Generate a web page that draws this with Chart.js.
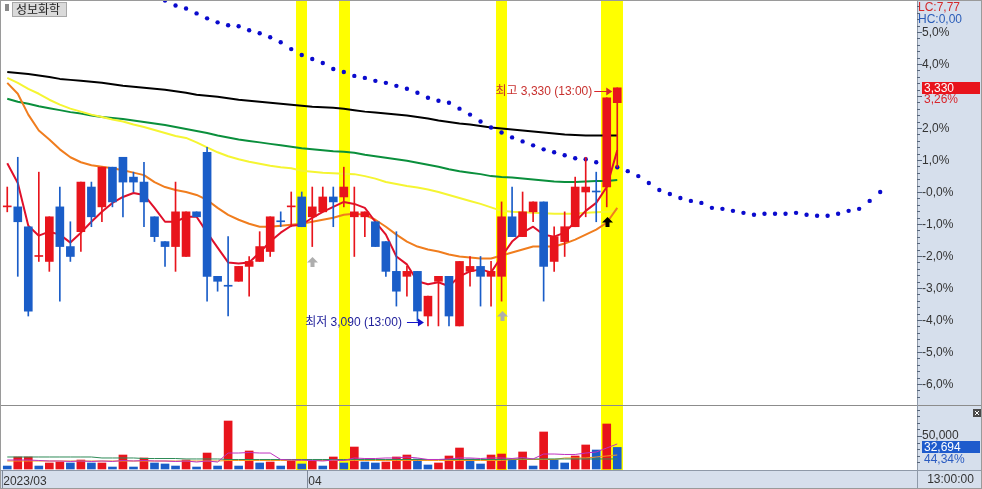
<!DOCTYPE html>
<html><head><meta charset="utf-8">
<script src="https://cdn.jsdelivr.net/npm/chart.js@4.4.0/dist/chart.umd.min.js"></script>
<style>html,body{margin:0;padding:0;background:#fff;overflow:hidden}#wrap{width:982px;height:489px}</style>
</head><body><div id="wrap"><canvas id="c" width="982" height="489"></canvas></div>
<script>
// ---------------- data ----------------
const stockName = '성보화학';
const baseClose = 3225;            // reference price of the % axis
const slots = 87;                  // number of bar slots on the time axis
const timeTicks = ['2023/03', '04'];
const timeTickIndex = [0, 29];
const lastTime = '13:00:00';
const lcText = 'LC:7,77';
const hcText = 'HC:0,00';
const volRatioText = '44,34%';

const opens  = [3210,3210,3190,3160,3155,3210,3170,3185,3230,3210,3250,3260,3240,3235,3200,3175,3170,3160,3205,3265,3140,3130,3135,3150,3155,3165,3195,3210,3220,3200,3205,3220,3220,3200,3200,3195,3175,3145,3140,3145,3100,3135,3140,3090,3145,3150,3140,3140,3200,3180,3205,3215,3155,3175,3190,3225,3225,3230,3315];
const highs  = [3230,3260,3190,3245,3200,3230,3195,3235,3235,3250,3250,3260,3245,3255,3200,3175,3235,3205,3205,3270,3140,3180,3150,3160,3185,3200,3205,3225,3225,3230,3230,3230,3250,3230,3205,3195,3175,3185,3150,3145,3120,3140,3140,3155,3160,3160,3155,3215,3230,3225,3215,3215,3190,3205,3240,3260,3245,3320,3330];
const lows   = [3205,3140,3100,3155,3145,3115,3155,3165,3190,3195,3210,3200,3225,3190,3175,3150,3145,3160,3200,3115,3125,3100,3135,3120,3155,3160,3190,3190,3190,3170,3205,3190,3210,3160,3180,3170,3140,3110,3120,3095,3090,3090,3090,3090,3130,3110,3110,3115,3180,3180,3195,3115,3145,3160,3190,3200,3195,3210,3250];
const closes = [3210,3195,3105,3160,3200,3170,3160,3235,3200,3250,3215,3235,3235,3215,3180,3170,3205,3205,3200,3140,3135,3130,3150,3155,3170,3200,3195,3210,3190,3210,3220,3215,3230,3205,3205,3170,3145,3125,3145,3105,3120,3140,3100,3155,3150,3140,3145,3200,3180,3205,3215,3150,3180,3190,3230,3230,3225,3320,3330];

const ma5   = [3254,3234,3191,3181,3185,3182,3174,3184,3195,3205,3214,3220,3224,3222,3209,3195,3195,3200,3200,3184,3169,3154,3153,3154,3164,3175,3184,3191,3192,3199,3205,3210,3215,3213,3209,3195,3182,3160,3152,3135,3132,3134,3130,3140,3145,3147,3144,3160,3175,3184,3190,3182,3180,3184,3195,3206,3214,3230,3267];
const ma20  = [3335,3324,3303,3287,3278,3268,3260,3255,3252,3250.5,3249,3247,3244.5,3242,3235,3230,3227,3225,3222,3217,3209,3202,3197,3193,3190,3190,3191,3192,3193,3195,3197,3199,3202,3203,3202,3197,3190,3182,3175,3170,3167,3165,3162,3160,3159,3158,3158,3161,3164,3167,3170,3170,3170,3173,3177,3182,3187,3194,3209];
const ma60  = [3340,3335,3329,3324,3318,3313,3309,3306,3303,3300.5,3298,3296,3293,3290.5,3287.5,3284.5,3281.5,3279.5,3275,3270,3265,3261,3258,3255.5,3253.5,3251.5,3250,3249,3246.5,3245.5,3244.5,3244,3243.5,3243,3241,3238.5,3235,3233,3231,3229.5,3227.5,3225,3222,3219,3216,3213,3209.5,3206,3205,3204.5,3204,3203.5,3203,3203,3203,3204,3204.5,3205,3206];
const ma120 = [3319,3316,3314,3311.5,3309.5,3307.5,3305.5,3304,3302,3300.5,3299.5,3298.5,3297,3295.5,3294,3292.5,3290.5,3288.5,3286.5,3284.5,3282,3280,3278,3276.5,3275,3273.5,3272,3270.5,3269,3268,3267,3266,3265.5,3264.5,3262.5,3261,3259.5,3258,3256.5,3254.5,3252.5,3250.5,3248,3246,3244.5,3243,3241,3240,3239.5,3238.5,3237.5,3236.5,3235.5,3235,3235,3235.5,3236,3236,3237];
const ma240 = [3346,3345,3344,3342.5,3341,3339,3338,3337,3336,3335,3333.5,3332,3331,3330,3329,3328,3326.5,3325,3323,3322,3321,3319.5,3318,3317,3316,3315,3314,3313,3312,3311,3310.5,3310,3309,3307.5,3306,3305,3304,3303,3302,3300.5,3299,3297,3295.5,3294,3293,3291.5,3290,3289,3288,3287,3286,3285,3284,3283,3282.5,3282,3282,3282,3282];

const leadStart = 15;
const leadLine = [3418,3413,3410,3405,3400,3396,3393,3392,3388,3385,3381,3376,3369,3363,3359,3355,3349,3346,3342,3340,3337,3335,3332,3329,3325,3320,3317,3315,3309,3303,3296,3290,3285,3280,3276,3272,3268,3265,3262,3259,3258,3255,3253,3250,3246,3241,3234,3227,3223,3219,3216,3214,3209,3208,3206,3204,3202,3203,3203,3203,3204,3202,3201,3201,3203,3206,3208,3216,3225];

const volumes = [4500,18200,18200,4500,9100,10600,9100,13600,9100,9100,3000,21200,3000,16700,9100,7600,4500,13600,3000,24200,4500,72700,4500,27300,9100,10600,4500,12100,7600,12100,4500,18200,9100,33300,10600,9100,10600,18200,21200,15200,6100,9100,19700,31800,15200,7600,21200,22700,13600,25800,4500,56100,13600,9100,19700,36400,28800,68200,32694];
const volDir  = [-1,1,1,-1,1,1,-1,1,-1,1,-1,1,-1,1,-1,-1,-1,1,-1,1,-1,1,-1,1,-1,1,-1,1,-1,1,-1,1,-1,1,-1,-1,1,1,1,-1,-1,1,1,1,-1,-1,1,1,-1,1,-1,1,-1,-1,1,1,-1,1,-1];
const volMa5  = [13600,13600,13600,12900,12100,12100,11400,12100,11400,12100,11400,12900,12100,12900,12100,12100,11400,12100,10600,12100,10600,24200,24200,25000,24200,24200,14400,13600,13600,12900,12100,13600,12900,16700,15900,15900,16700,16700,18200,16700,14400,14400,15200,16700,16700,15900,16700,16700,15900,17400,15200,22700,22700,22000,22000,24200,25800,31800,37900];
const volMa20 = [18200,18200,18200,18200,18200,18200,18200,18200,18200,16700,16700,16700,16700,15900,15900,15900,15900,15200,15200,15200,15200,14400,14400,14400,14400,14400,14400,14400,14400,14400,14400,14400,14400,14400,14400,14400,14400,14400,14400,14400,14400,14400,14400,14400,14400,14400,14400,14400,15200,15200,15200,15200,15200,15200,15200,15200,15200,15200,15200];
const volMa60 = [12100,12100,12100,12100,12100,12100,12100,12100,12100,12100,12100,12100,12100,12100,12100,12100,12100,12100,12100,12100,12100,12900,12900,12900,12900,12900,12900,12900,12900,12900,12900,12900,12900,12900,12900,12900,12900,12900,12900,12900,12900,12900,12900,12900,12900,12900,12900,12900,14400,14400,14400,14400,14400,16700,16700,16700,18200,19700,21200];

const signalBars = [28, 32, 47, 57, 58];   // highlighted bars
const buySignals = [29, 47, 57];           // arrow markers (last one confirmed)
const pctLevels = [5, 4, 3, 2, 1, 0, -1, -2, -3, -4, -5, -6];
const volLabel = 50000;

// ---------------- styling / layout ----------------
const UP = '#E8141C', DOWN = '#1A5DC8', PANEL = 'rgb(214,223,236)';
const FONT = "'Liberation Sans','Noto Sans CJK KR',sans-serif";
const N = closes.length;
const paneSplit = 405;     // divider between price and volume panes
const axisW = 65;
const candleColors = closes.map((c, i) => c > opens[i] ? UP : c < opens[i] ? DOWN : (i === 0 || c >= closes[i - 1] ? UP : DOWN));
const labels = Array.from({length: slots}, (_, i) => String(i));
const tickText = {};
timeTickIndex.forEach((ix, k) => tickText[ix] = timeTicks[k]);
const leadData = labels.map((_, i) => (i >= leadStart && i - leadStart < leadLine.length) ? leadLine[i - leadStart] : null);
const fmtPct = k => k > 0 ? k + ',0%' : '-' + Math.abs(k) + ',0%';
const fmtNum = v => Math.round(v).toLocaleString('en-US');

function lineDs(data, color, order, width, axis) {
  return {type: 'line', data, borderColor: color, borderWidth: width || 2, pointRadius: 0, tension: 0,
    order, yAxisID: axis || 'y', borderJoinStyle: 'round', spanGaps: false};
}

const paint = {
  id: 'paint',
  beforeDraw(chart) {
    const {ctx, width, height, chartArea: ca} = chart;
    ctx.save();
    ctx.fillStyle = '#fff'; ctx.fillRect(0, 0, width, height);
    ctx.fillStyle = PANEL;
    ctx.fillRect(ca.right, 0, width - ca.right, height);
    ctx.fillRect(0, ca.bottom, width, height - ca.bottom);
    ctx.restore();
  },
  beforeDatasetsDraw(chart) {
    const {ctx, chartArea: ca, scales: {x}} = chart;
    const slot = x.getPixelForValue(1) - x.getPixelForValue(0);
    ctx.save();
    ctx.fillStyle = '#FFFF00';
    signalBars.forEach(i => {
      const c = x.getPixelForValue(i);
      ctx.fillRect(Math.round(c - slot / 2), ca.top, Math.round(slot), ca.bottom - ca.top);
    });
    ctx.restore();
  },
  afterDatasetsDraw(chart) {
    const {ctx, width, height, chartArea: ca, scales: {x, y, yv}} = chart;
    const slot = x.getPixelForValue(1) - x.getPixelForValue(0);
    ctx.save();
    // pane divider, strip border, axis line
    ctx.lineWidth = 1;
    ctx.strokeStyle = '#8C8C8C';
    ctx.beginPath(); ctx.moveTo(0, paneSplit + 0.5); ctx.lineTo(width, paneSplit + 0.5); ctx.stroke();
    ctx.strokeStyle = '#8E99A8';
    ctx.beginPath(); ctx.moveTo(0, ca.bottom + 0.5); ctx.lineTo(width, ca.bottom + 0.5); ctx.stroke();
    ctx.beginPath(); ctx.moveTo(ca.right + 0.5, 0); ctx.lineTo(ca.right + 0.5, height); ctx.stroke();
    // time separators
    ctx.strokeStyle = '#7F8A9A';
    timeTickIndex.forEach(i => {
      const bx = Math.round(x.getPixelForValue(i) - slot / 2) + 0.5;
      ctx.beginPath(); ctx.moveTo(bx, ca.bottom); ctx.lineTo(bx, height); ctx.stroke();
    });
    ctx.font = '12px ' + FONT;
    ctx.textBaseline = 'middle';
    ctx.textAlign = 'left';
    // price axis ticks and labels
    ctx.strokeStyle = '#56657A';
    for (let k = -34; k <= 29; k++) {
      const py = Math.round(y.getPixelForValue(baseClose * (1 + k * 0.2 / 100))) + 0.5;
      if (py < ca.top + 2 || py > paneSplit - 2) continue;
      const major = k % 5 === 0;
      ctx.beginPath(); ctx.moveTo(ca.right, py); ctx.lineTo(ca.right + (major ? 5 : 3), py); ctx.stroke();
    }
    const lastC = closes[N - 1];
    const tagY = y.getPixelForValue(lastC);
    ctx.fillStyle = '#333';
    pctLevels.forEach(k => {
      const py = y.getPixelForValue(baseClose * (1 + k / 100));
      if (Math.abs(py - tagY) < 12) return;   // hidden behind the price tag
      ctx.fillText(fmtPct(k), ca.right + 5, py + 0.5);
    });
    // volume axis ticks
    for (let v = 10000; v <= 90000; v += 10000) {
      const py = Math.round(yv.getPixelForValue(v)) + 0.5;
      if (py < paneSplit + 2) continue;
      ctx.beginPath(); ctx.moveTo(ca.right, py); ctx.lineTo(ca.right + (v === volLabel ? 5 : 3), py); ctx.stroke();
    }
    ctx.fillStyle = '#333';
    ctx.fillText(fmtNum(volLabel), ca.right + 5, yv.getPixelForValue(volLabel));
    // volume tag
    const lastVol = volumes[N - 1];
    const vy = yv.getPixelForValue(lastVol);
    ctx.fillStyle = '#1E5BCC';
    ctx.fillRect(ca.right + 5, Math.round(vy) - 6, 58, 12);
    ctx.fillStyle = '#fff';
    ctx.fillText(fmtNum(lastVol), ca.right + 7, vy + 0.5);
    ctx.fillStyle = '#2A5BC0';
    ctx.fillText(volRatioText, ca.right + 7, vy + 12);
    // price tag
    ctx.fillStyle = '#E8141C';
    ctx.fillRect(ca.right + 5, Math.round(tagY) - 6, 58, 12);
    ctx.fillStyle = '#fff';
    ctx.fillText(fmtNum(lastC), ca.right + 7, tagY + 0.5);
    ctx.fillStyle = '#D8262C';
    const chg = ((lastC / baseClose - 1) * 100).toFixed(2).replace('.', ',');
    ctx.fillText(chg + '%', ca.right + 7, tagY + 12);
    // LC / HC
    ctx.fillStyle = '#D42A2A'; ctx.fillText(lcText, ca.right + 1, 8);
    ctx.fillStyle = '#2B5DB8'; ctx.fillText(hcText, ca.right + 1, 20);
    // time at right of strip
    ctx.fillStyle = '#333'; ctx.textAlign = 'center';
    ctx.fillText(lastTime, (ca.right + width) / 2 + 1, (ca.bottom + height) / 2 + 0.5);
    // close icon of volume pane
    ctx.fillStyle = '#4A4A4A'; ctx.fillRect(width - 9, paneSplit + 4, 8, 8);
    ctx.strokeStyle = '#fff';
    ctx.beginPath(); ctx.moveTo(width - 7, paneSplit + 6); ctx.lineTo(width - 3, paneSplit + 10);
    ctx.moveTo(width - 3, paneSplit + 6); ctx.lineTo(width - 7, paneSplit + 10); ctx.stroke();

    // high / low annotations
    const hiVal = Math.max(...highs), hiIdx = highs.indexOf(hiVal);
    const loVal = Math.min(...lows), loIdx = lows.indexOf(loVal);
    function arrowRight(tipX, tipY, len, color) {
      ctx.strokeStyle = color; ctx.fillStyle = color; ctx.lineWidth = 1;
      ctx.beginPath(); ctx.moveTo(tipX - len, tipY + 0.5); ctx.lineTo(tipX - 4, tipY + 0.5); ctx.stroke();
      ctx.beginPath(); ctx.moveTo(tipX, tipY + 0.5); ctx.lineTo(tipX - 6, tipY - 3.5); ctx.lineTo(tipX - 6, tipY + 4.5); ctx.closePath(); ctx.fill();
    }
    ctx.textAlign = 'right';
    let tx = x.getPixelForValue(hiIdx) - 5, ty = Math.round(y.getPixelForValue(hiVal)) + 3;
    arrowRight(tx, ty, 18, '#D8262C');
    ctx.fillStyle = '#C8302E';
    ctx.fillText('최고 ' + fmtNum(hiVal) + ' (13:00)', tx - 20, ty + 0.5);
    tx = x.getPixelForValue(loIdx) - 4; ty = Math.round(y.getPixelForValue(loVal)) - 4;
    arrowRight(tx, ty, 17, '#1414C8');
    ctx.fillStyle = '#1E1E9A';
    ctx.fillText('최저 ' + fmtNum(loVal) + ' (13:00)', tx - 22, ty + 0.5);

    // buy signal arrows
    buySignals.forEach((i, k) => {
      const cx = Math.round(x.getPixelForValue(i));
      const top = Math.round(y.getPixelForValue(lows[i])) + 10;
      ctx.fillStyle = k === buySignals.length - 1 ? '#000' : '#AEAEAE';
      ctx.beginPath(); ctx.moveTo(cx + 0.5, top); ctx.lineTo(cx - 5, top + 5.5); ctx.lineTo(cx + 6, top + 5.5); ctx.closePath(); ctx.fill();
      ctx.fillRect(cx - 1.5, top + 5, 4, 5);
    });

    // name box
    ctx.fillStyle = '#8A8A8A'; ctx.fillRect(5, 4, 4, 7);
    ctx.fillStyle = '#DADADA'; ctx.fillRect(12, 2, 54, 14);
    ctx.strokeStyle = '#A8A8A8'; ctx.strokeRect(12.5, 2.5, 54, 14);
    ctx.fillStyle = '#222'; ctx.textAlign = 'left';
    ctx.font = "12px 'Noto Sans CJK KR',sans-serif";
    ctx.fillText(stockName, 16, 9.5);
    // outer frame
    ctx.strokeStyle = '#9A9A9A';
    ctx.strokeRect(0.5, 0.5, width - 1, height - 1);
    ctx.restore();
  }
};

const yMax = 3417.5, yMin = 2944.8;
new Chart(document.getElementById('c'), {
  type: 'bar',
  data: {
    labels,
    datasets: [
      lineDs(volMa5, '#C030C0', 1, 1, 'yv'),
      lineDs(volMa20, '#2E8B57', 1, 1, 'yv'),
      lineDs(volMa60, '#F59A1E', 1, 1, 'yv'),
      {type: 'bar', data: opens.map((o, i) => [o, closes[i]]), backgroundColor: candleColors, barThickness: 8, grouped: false, minBarLength: 1, order: 2, yAxisID: 'y'},
      {type: 'bar', data: lows.map((l, i) => [l, highs[i]]), backgroundColor: candleColors, barThickness: 1, grouped: false, minBarLength: 1, order: 3, yAxisID: 'y'},
      {type: 'bar', data: volumes, backgroundColor: volDir.map(d => d > 0 ? UP : DOWN), barThickness: 8, grouped: false, order: 4, yAxisID: 'yv'},
      {type: 'line', data: leadData, showLine: false, pointRadius: 2.2, pointBackgroundColor: '#0A0ACD', pointBorderWidth: 0, order: 5, yAxisID: 'y'},
      lineDs(ma5, '#E0102A', 6),
      lineDs(ma20, '#F07D1E', 7),
      lineDs(ma60, '#F5F532', 8),
      lineDs(ma120, '#0A8F3C', 9),
      lineDs(ma240, '#000000', 10)
    ]
  },
  options: {
    responsive: false, animation: false, devicePixelRatio: 1,
    layout: {autoPadding: false, padding: {left: 2, top: 1, right: axisW, bottom: 0}},
    plugins: {legend: {display: false}, tooltip: {enabled: false}},
    scales: {
      x: {
        type: 'category', offset: true,
        grid: {display: false, drawTicks: false}, border: {display: false},
        ticks: {autoSkip: false, maxRotation: 0, minRotation: 0, align: 'start', labelOffset: -4, padding: 4,
          color: '#333', font: {size: 12, family: FONT}, callback: (v, i) => tickText[i] || ''},
        afterFit: s => { s.height = 19; s.paddingLeft = 0; s.paddingRight = 0; }
      },
      y: {display: false, position: 'right', min: yMin, max: yMax},
      yv: {display: false, position: 'right', min: -1515, max: 709000}
    }
  },
  plugins: [paint]
});
</script></body></html>
